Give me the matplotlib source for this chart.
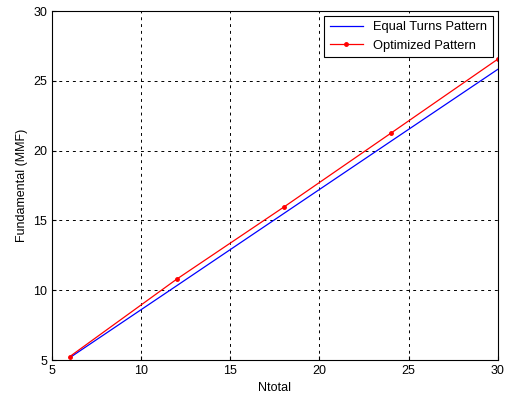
import numpy as np
import matplotlib.pyplot as plt

plt.rcParams['font.family'] = ['Liberation Sans', 'DejaVu Sans']

# Datos
n_total = [6, 12, 18, 24, 30]
equal_turns = [5.17, 10.33, 15.5, 20.67, 25.83]
optimized = [5.25, 10.8, 15.96, 21.25, 26.56]

fig = plt.figure(figsize=(5.09, 3.97), dpi=100)
ax = fig.add_axes([0.102, 0.093, 0.876, 0.879])

ax.plot(n_total, equal_turns, color='blue', lw=0.9, label='Equal Turns Pattern')
ax.plot(n_total, optimized, color='red', lw=0.9, marker='.', markersize=5,
        label='Optimized Pattern')

ax.set_xlim(5, 30)
ax.set_ylim(5, 30)
ax.set_xticks([5, 10, 15, 20, 25, 30])
ax.set_yticks([5, 10, 15, 20, 25, 30])
ax.tick_params(labelsize=9, direction='in', length=3)
ax.grid(True, color='black', linestyle=(0, (3, 4)), lw=0.7)
for s in ax.spines.values():
    s.set_linewidth(0.8)

ax.set_xlabel('Ntotal', fontsize=9)
ax.set_ylabel('Fundamental (MMF)', fontsize=9)

leg = ax.legend(loc='upper right', fontsize=9.3, fancybox=False, framealpha=1,
                edgecolor='black', borderaxespad=0.4, handlelength=2.6)
leg.get_frame().set_linewidth(0.8)

fig.savefig('out.png', dpi=100)
